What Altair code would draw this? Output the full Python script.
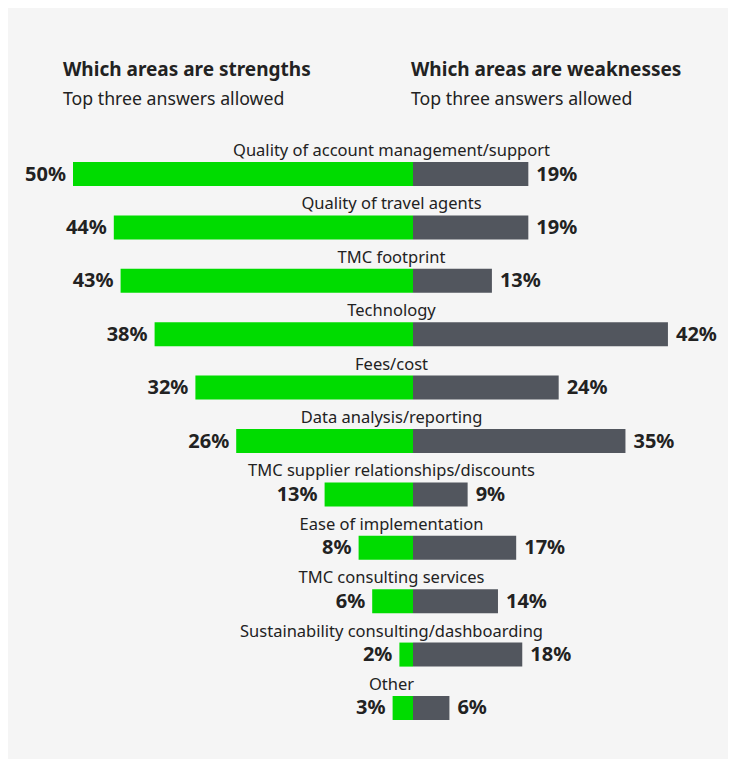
import altair as alt
import pandas as pd

categories = [
    "Quality of account management/support",
    "Quality of travel agents",
    "TMC footprint",
    "Technology",
    "Fees/cost",
    "Data analysis/reporting",
    "TMC supplier relationships/discounts",
    "Ease of implementation",
    "TMC consulting services",
    "Sustainability consulting/dashboarding",
    "Other",
]
strengths = [50, 44, 43, 38, 32, 26, 13, 8, 6, 2, 3]
weaknesses = [19, 19, 13, 42, 24, 35, 9, 17, 14, 18, 6]

headers = ["Which areas are strengths", "Which areas are weaknesses"]
subheaders = ["Top three answers allowed", "Top three answers allowed"]

df = pd.DataFrame({"category": categories, "strength": strengths, "weakness": weaknesses})

GREEN = "#00dc00"
GREY = "#52565e"
TEXT = "#222222"
FONT = "Noto Sans"

xs = alt.Scale(domain=[-50, 0, 50], range=[65, 405, 708.5], nice=False, zero=False)
ys = alt.Scale(domain=categories, range=[154, 712], paddingInner=0.55, paddingOuter=0)

base = alt.Chart(df).transform_calculate(
    neg="-datum.strength",
    slabel="datum.strength + '%'",
    wlabel="datum.weakness + '%'",
)
y = alt.Y("category:N", scale=ys, axis=None, sort=categories)

left = base.mark_bar(color=GREEN).encode(
    x=alt.X("neg:Q", scale=xs, axis=None), x2=alt.datum(0), y=y
)
right = base.mark_bar(color=GREY).encode(
    x=alt.X("weakness:Q", scale=xs, axis=None), x2=alt.datum(0), y=y
)
left_lab = base.mark_text(
    align="right", baseline="middle", dx=-7, dy=0.5, fontSize=20, fontWeight="bold", font=FONT, color=TEXT
).encode(x=alt.X("neg:Q", scale=xs, axis=None), y=y, text="slabel:N")
right_lab = base.mark_text(
    align="left", baseline="middle", dx=8, dy=0.5, fontSize=20, fontWeight="bold", font=FONT, color=TEXT
).encode(x=alt.X("weakness:Q", scale=xs, axis=None), y=y, text="wlabel:N")
cat_lab = base.mark_text(
    align="center", baseline="alphabetic", dx=-21.5, dy=-18, fontSize=16.5, font=FONT, color=TEXT
).encode(x=alt.datum(0), y=y, text="category:N")


def header(txt, xpos, ypos, size, weight):
    return alt.Chart(pd.DataFrame({"t": [txt]})).mark_text(
        align="left", baseline="alphabetic", fontSize=size, fontWeight=weight, font=FONT, color=TEXT
    ).encode(x=alt.value(xpos), y=alt.value(ypos), text="t:N")


hdrs = [
    header(headers[0], 55, 67.7, 19, "bold"),
    header(headers[1], 403, 67.7, 19, "bold"),
    header(subheaders[0], 55, 97, 17.7, "normal"),
    header(subheaders[1], 403, 97, 17.7, "normal"),
]

chart = alt.layer(left, right, left_lab, right_lab, cat_lab, *hdrs).properties(
    width=720,
    height=751,
    background="#f5f5f5",
    padding=0,
    autosize=alt.AutoSizeParams(type="none"),
).configure_view(stroke=None)

chart.save("out.html", embed_options={"renderer": "svg", "actions": False})
